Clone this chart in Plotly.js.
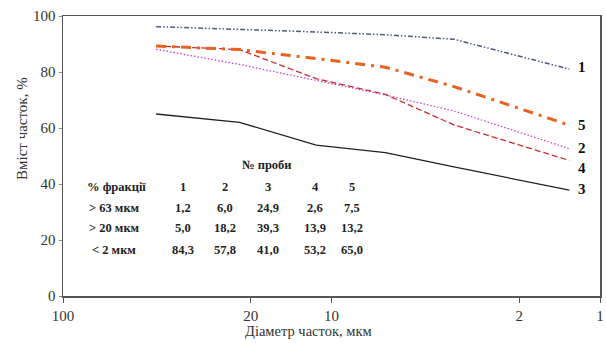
<!DOCTYPE html>
<html><head><meta charset="utf-8">
<script src="https://cdn.plot.ly/plotly-3.0.1.min.js"></script>
<style>html,body{margin:0;padding:0;background:#fff}#c{width:606px;height:343px}</style>
</head><body><div id="c"></div>
<script>
// Particle diameter, µm
const diam = [45, 22, 11.4, 6.3, 3.5, 1.3];
// Content of particles, % (samples 1..5)
const s1 = [96.2, 95.3, 94.3, 93.3, 91.7, 81.0];
const s2 = [88.1, 82.7, 77.0, 71.8, 66.1, 52.6];
const s3 = [65.0, 62.0, 53.9, 51.2, 46.1, 37.8];
const s4 = [89.3, 88.0, 77.6, 72.0, 61.1, 48.4];
const s5 = [89.3, 88.0, 84.8, 81.7, 74.8, 61.0];
const seriesNames = ['1', '2', '3', '4', '5'];
// Table of fractions
const tableHeader = '№ проби';
const rowHeader = '% фракції';
const rowLabels = ['> 63 мкм', '> 20 мкм', '< 2 мкм'];
const tSample1 = ['1,2', '5,0', '84,3'];
const tSample2 = ['6,0', '18,2', '57,8'];
const tSample3 = ['24,9', '39,3', '41,0'];
const tSample4 = ['2,6', '13,9', '53,2'];
const tSample5 = ['7,5', '13,2', '65,0'];
const xTicks = [100, 20, 10, 2, 1];
const yTicks = [0, 20, 40, 60, 80, 100];

const serif = '"Liberation Serif", "Times New Roman", Times, serif';
const styles = [
  {color: '#4d5b7c', width: 1.5, dash: '5px,2px,1.5px,2px,1.5px,2px'},
  {color: '#c23ccc', width: 1.2, dash: '1.5px,2px'},
  {color: '#222222', width: 1.3, dash: 'solid'},
  {color: '#cf2a2a', width: 1.3, dash: '6px,3px'},
  {color: '#ea621e', width: 3, dash: '10px,6px,3px,6px'}
];
const allSeries = [s1, s2, s3, s4, s5];
const traces = allSeries.map((s, i) => ({
  x: diam, y: s, type: 'scatter', mode: 'lines', name: seriesNames[i],
  line: styles[i], hoverinfo: 'skip'
}));

const X0 = 63, W = 537, YB = 296, H = 280;
const px = x => (x - X0) / W;
const py = y => (YB - y) / H;
const ann = [];
const base = {xref: 'paper', yref: 'paper', xanchor: 'center', yanchor: 'middle', showarrow: false};
const endY = [81.9, 52.75, 38.2, 45.6, 61.1];
seriesNames.forEach((n, i) => ann.push(Object.assign({}, base, {
  text: '<b>' + n + '</b>', x: px(582), y: endY[i], yref: 'y',
  font: {family: serif, size: 15, color: '#111'}
})));
const tf = {family: serif, size: 12.5, color: '#222'};
ann.push(Object.assign({}, base, {text: '<b>' + tableHeader + '</b>', x: px(267), y: py(165), font: tf}));
ann.push(Object.assign({}, base, {text: '<b>' + rowHeader + '</b>', x: px(116), y: py(186.7), font: tf}));
const colX = [183.3, 225, 268.3, 315, 351.7];
colX.forEach((cx, i) => ann.push(Object.assign({}, base, {text: '<b>' + seriesNames[i] + '</b>', x: px(cx), y: py(186.7), font: tf})));
const rowY = [208.3, 228.3, 250];
const cols = [tSample1, tSample2, tSample3, tSample4, tSample5];
rowLabels.forEach((lab, r) => {
  ann.push(Object.assign({}, base, {text: '<b>' + lab + '</b>', x: px(114), y: py(rowY[r]), font: tf}));
  cols.forEach((c, i) => ann.push(Object.assign({}, base, {text: '<b>' + c[r] + '</b>', x: px(colX[i]), y: py(rowY[r]), font: tf})));
});
ann.push(Object.assign({}, base, {text: 'Вміст часток, %', textangle: -90, x: px(22), y: py(129), font: {family: serif, size: 15, color: '#333'}}));
ann.push(Object.assign({}, base, {text: 'Діаметр часток, мкм', x: px(308), y: py(331), font: {family: serif, size: 14.5, color: '#333'}}));

const layout = {
  width: 606, height: 343,
  margin: {l: 63, r: 6, t: 16, b: 47},
  paper_bgcolor: '#fff', plot_bgcolor: '#fff',
  showlegend: false,
  xaxis: {type: 'log', range: [2, 0], tickvals: xTicks, ticktext: xTicks.map(String),
    showgrid: false, zeroline: false, showline: true, mirror: true, linecolor: '#555', linewidth: 1.5,
    ticks: 'outside', ticklen: 5, tickcolor: '#555', tickfont: {family: serif, size: 15, color: '#333'}},
  yaxis: {range: [0, 100], tickvals: yTicks, showgrid: false, zeroline: false, showline: true, mirror: true,
    linecolor: '#555', linewidth: 1.5, ticks: 'outside', ticklen: 3, tickcolor: '#888',
    tickfont: {family: serif, size: 15, color: '#333'}},
  annotations: ann
};
Plotly.newPlot('c', traces, layout, {displayModeBar: false, staticPlot: true});
</script></body></html>
